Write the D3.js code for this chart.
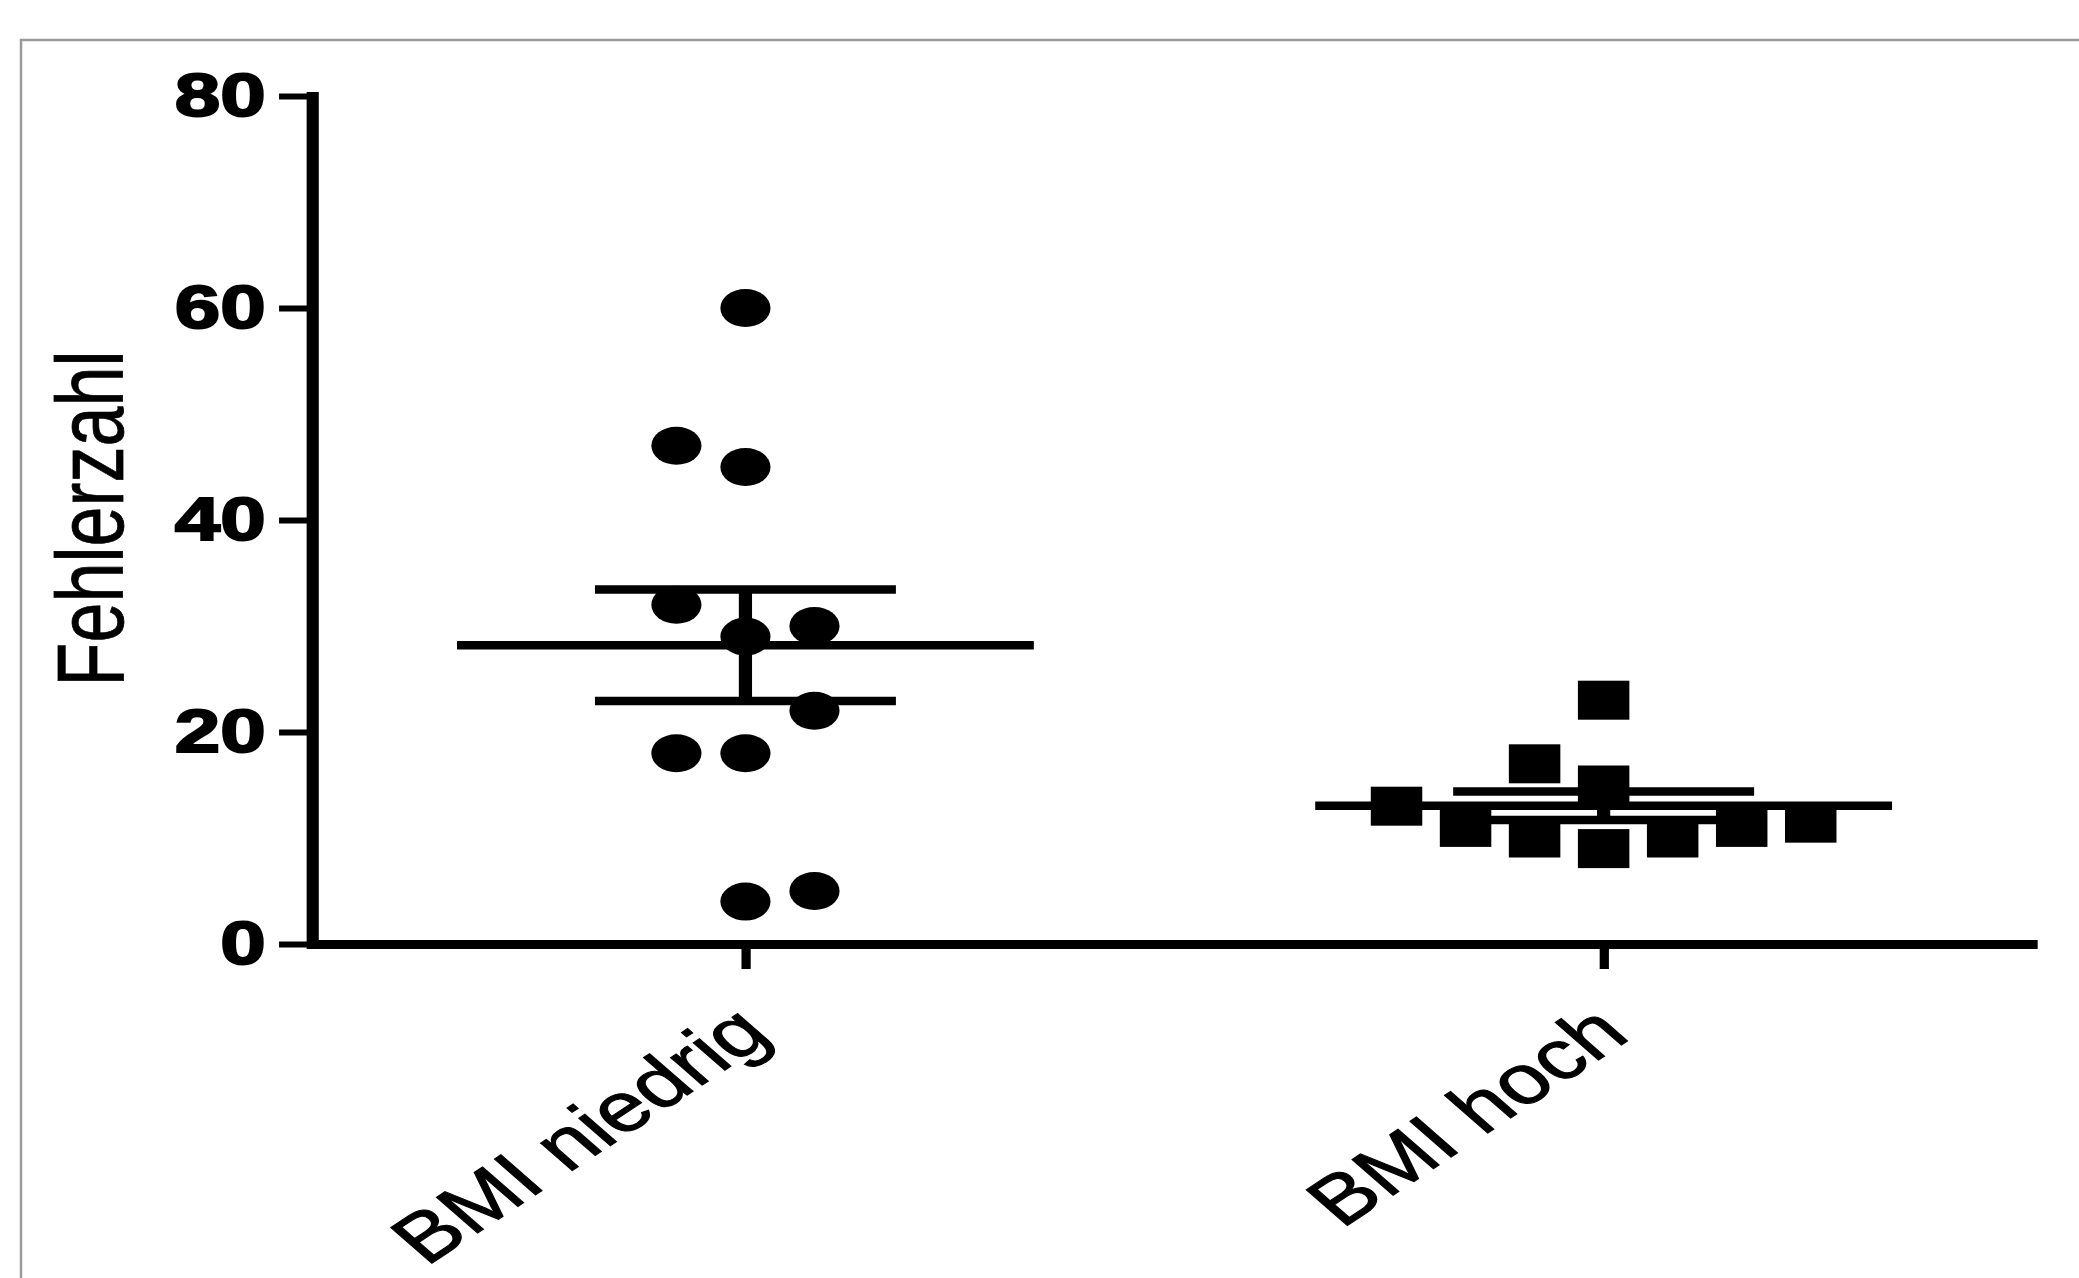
<!DOCTYPE html>
<html><head><meta charset="utf-8">
<script src="https://cdn.jsdelivr.net/npm/d3@7"></script>
<style>html,body{margin:0;padding:0;background:#fff;overflow:hidden;}</style>
</head><body><svg id="c" width="2079" height="1278"></svg>
<script>
// ---- data ----
const categories = ["BMI niedrig", "BMI hoch"];
const niedrigValues = [60, 47, 45, 32, 29, 30, 22, 18, 18, 5, 4];
const niedrigSlots  = [0, -1, 0, -1, 0, 1, 1, -1, 0, 1, 0];   // scatter column index
const hochValues    = [23, 17, 15, 13, 11, 10, 9, 10, 11, 11.4];
const hochSlots     = [0, -1, 0, -3, -2, -1, 0, 1, 2, 3];
const yTicks = [0, 20, 40, 60, 80];
const yTitle = "Fehlerzahl";

// ---- layout ----
const SX = 1.32;                 // the reference is stretched horizontally
const svg = d3.select("#c");
svg.append("rect").attr("width", 2079).attr("height", 1278).attr("fill", "#fff");
svg.append("rect").attr("x", 21).attr("y", 40).attr("width", 2200).attr("height", 1400)
   .attr("fill", "none").attr("stroke", "#9a9a9a").attr("stroke-width", 2.5);

const g = svg.append("g").attr("transform", `scale(${SX},1)`);

const x = d3.scalePoint().domain(categories).range([236.4, 1543.2]).padding(0.505);
const y = d3.scaleLinear().domain([0, 80]).range([944, 96]);
const slotStep = 52.3;

const groups = [
  {cat: categories[0], values: niedrigValues, slots: niedrigSlots, shape: "circle"},
  {cat: categories[1], values: hochValues, slots: hochSlots, shape: "square"}
];

// points
groups.forEach(grp => {
  const pts = grp.values.map((v, i) => ({v, s: grp.slots[i]}));
  const cx0 = x(grp.cat);
  if (grp.shape === "circle") {
    g.append("g").selectAll("circle").data(pts).join("circle")
      .attr("cx", d => cx0 + d.s * slotStep).attr("cy", d => y(d.v)).attr("r", 19)
      .attr("fill", "#000");
  } else {
    g.append("g").selectAll("rect").data(pts).join("rect")
      .attr("x", d => cx0 + d.s * slotStep - 19.5).attr("y", d => y(d.v) - 19.5)
      .attr("width", 39).attr("height", 39).attr("fill", "#000");
  }
  // mean +- SEM
  const m = d3.mean(grp.values);
  const sem = d3.deviation(grp.values) / Math.sqrt(grp.values.length);
  const eg = g.append("g").attr("stroke", "#000").attr("fill", "none");
  eg.append("line").attr("x1", cx0 - 218.5).attr("x2", cx0 + 218.5)
    .attr("y1", y(m)).attr("y2", y(m)).attr("stroke-width", 8.5);
  [m + sem, m - sem].forEach(val => {
    eg.append("line").attr("x1", cx0 - 114).attr("x2", cx0 + 114)
      .attr("y1", y(val)).attr("y2", y(val)).attr("stroke-width", 8.5);
  });
  eg.append("line").attr("x1", cx0).attr("x2", cx0)
    .attr("y1", y(m + sem)).attr("y2", y(m - sem)).attr("stroke-width", 10);
});

// y axis
const yAxis = g.append("g").attr("transform", "translate(236.4,0)")
  .call(d3.axisLeft(y).tickValues(yTicks).tickSize(25).tickSizeOuter(0).tickPadding(10));
yAxis.select(".domain").attr("stroke", "#000").attr("stroke-width", 9.2).attr("stroke-linecap", "square");
yAxis.selectAll(".tick line").attr("stroke", "#000").attr("stroke-width", 6);
yAxis.selectAll(".tick text")
  .attr("font-family", "'Liberation Sans', Arial, sans-serif").attr("font-weight", "bold")
  .attr("font-size", 62).attr("fill", "#000").attr("stroke", "#000").attr("stroke-width", 2);

// x axis
const xAxis = g.append("g").attr("transform", "translate(0,944)")
  .call(d3.axisBottom(x).tickSize(25).tickSizeOuter(0));
xAxis.select(".domain").attr("stroke", "#000").attr("stroke-width", 9);
xAxis.selectAll(".tick line").attr("stroke", "#000").attr("stroke-width", 7);
xAxis.selectAll(".tick text")
  .attr("font-family", "'Liberation Sans', Arial, sans-serif").attr("font-size", 69)
  .attr("fill", "#000").attr("stroke", "#000").attr("stroke-width", 1)
  .attr("x", 0).attr("y", 0).attr("dy", 0)
  .attr("text-anchor", "end").attr("transform", "translate(21,94) rotate(-41)");

// y title
g.append("text").attr("transform", "translate(93.2,518.5) rotate(-90)")
  .attr("text-anchor", "middle").attr("font-family", "'Liberation Sans', Arial, sans-serif")
  .attr("font-size", 72).attr("fill", "#000").attr("stroke", "#000").attr("stroke-width", 0.6)
  .text(yTitle);
</script>
</body></html>
